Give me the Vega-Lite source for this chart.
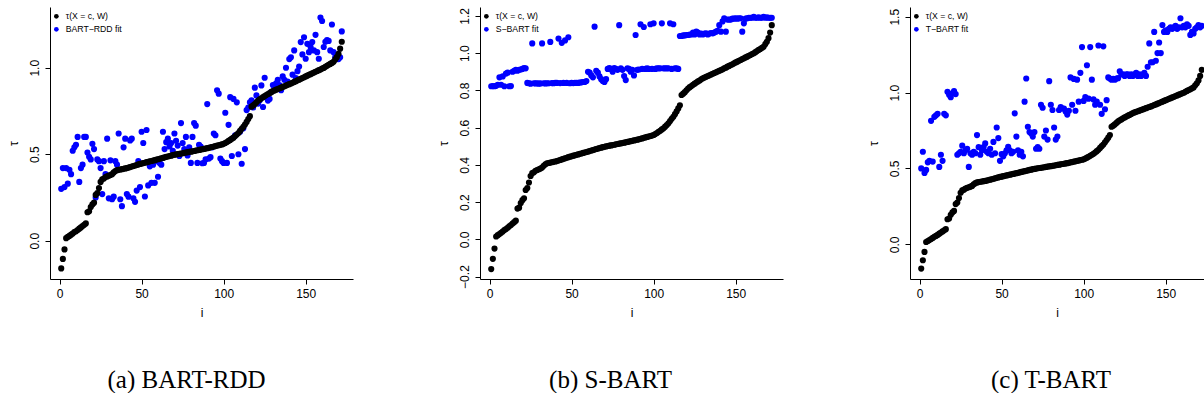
{
  "$schema": "https://vega.github.io/schema/vega-lite/v6.json",
  "padding": {"left": 7, "top": 7, "right": 0, "bottom": 0},
  "background": "white",
  "datasets": {
    "d": [
      {"i":1,"tau":-0.16,"a":0.30,"b":0.822,"c":0.50},
      {"i":2,"tau":-0.105,"a":0.42,"b":0.823,"c":0.61},
      {"i":3,"tau":-0.05,"a":0.31,"b":0.822,"c":0.47},
      {"i":4,"tau":0.015,"a":0.42,"b":0.824,"c":0.49},
      {"i":5,"tau":0.022,"a":0.33,"b":0.83,"c":0.54},
      {"i":6,"tau":0.028,"a":0.41,"b":0.87,"c":0.55},
      {"i":7,"tau":0.035,"a":0.385,"b":0.83,"c":0.814},
      {"i":8,"tau":0.042,"a":0.52,"b":0.875,"c":0.545},
      {"i":9,"tau":0.05,"a":0.54,"b":0.822,"c":0.84},
      {"i":10,"tau":0.055,"a":0.555,"b":0.89,"c":0.85},
      {"i":11,"tau":0.062,"a":0.60,"b":0.895,"c":0.86},
      {"i":12,"tau":0.07,"a":0.34,"b":0.822,"c":0.51},
      {"i":13,"tau":0.077,"a":0.42,"b":0.823,"c":0.59},
      {"i":14,"tau":0.085,"a":0.44,"b":0.90,"c":0.55},
      {"i":15,"tau":0.092,"a":0.60,"b":0.905,"c":0.86},
      {"i":16,"tau":0.10,"a":0.60,"b":0.91,"c":0.85},
      {"i":17,"tau":0.165,"a":0.51,"b":0.905,"c":1.005},
      {"i":18,"tau":0.17,"a":0.485,"b":0.91,"c":0.985},
      {"i":19,"tau":0.195,"a":0.47,"b":0.912,"c":0.97},
      {"i":20,"tau":0.21,"a":0.56,"b":0.915,"c":0.995},
      {"i":21,"tau":0.22,"a":0.53,"b":0.92,"c":1.01},
      {"i":22,"tau":0.265,"a":0.25,"b":0.918,"c":0.99},
      {"i":23,"tau":0.275,"a":0.47,"b":0.84,"c":0.59},
      {"i":24,"tau":0.305,"a":0.46,"b":0.838,"c":0.60},
      {"i":25,"tau":0.34,"a":0.42,"b":0.836,"c":0.61},
      {"i":26,"tau":0.355,"a":0.27,"b":1.052,"c":0.65},
      {"i":27,"tau":0.36,"a":0.46,"b":0.838,"c":0.60},
      {"i":28,"tau":0.368,"a":0.385,"b":0.837,"c":0.62},
      {"i":29,"tau":0.372,"a":0.59,"b":0.838,"c":0.63},
      {"i":30,"tau":0.376,"a":0.245,"b":0.836,"c":0.51},
      {"i":31,"tau":0.38,"a":0.465,"b":0.837,"c":0.60},
      {"i":32,"tau":0.385,"a":0.24,"b":1.052,"c":0.59},
      {"i":33,"tau":0.395,"a":0.255,"b":0.838,"c":0.61},
      {"i":34,"tau":0.403,"a":0.46,"b":0.837,"c":0.60},
      {"i":35,"tau":0.408,"a":0.44,"b":0.838,"c":0.72},
      {"i":36,"tau":0.41,"a":0.62,"b":0.838,"c":0.64},
      {"i":37,"tau":0.412,"a":0.24,"b":1.06,"c":0.59},
      {"i":38,"tau":0.414,"a":0.20,"b":0.839,"c":0.62},
      {"i":39,"tau":0.416,"a":0.54,"b":0.838,"c":0.64},
      {"i":40,"tau":0.418,"a":0.59,"b":0.84,"c":0.665},
      {"i":41,"tau":0.42,"a":0.27,"b":0.84,"c":0.61},
      {"i":42,"tau":0.423,"a":0.255,"b":1.078,"c":0.60},
      {"i":43,"tau":0.426,"a":0.58,"b":0.839,"c":0.63},
      {"i":44,"tau":0.429,"a":0.59,"b":1.055,"c":0.59},
      {"i":45,"tau":0.432,"a":0.245,"b":0.84,"c":0.675},
      {"i":46,"tau":0.435,"a":0.225,"b":1.068,"c":0.60},
      {"i":47,"tau":0.438,"a":0.29,"b":0.84,"c":0.77},
      {"i":48,"tau":0.441,"a":0.46,"b":1.085,"c":0.70},
      {"i":49,"tau":0.444,"a":0.31,"b":0.838,"c":0.55},
      {"i":50,"tau":0.446,"a":0.63,"b":0.84,"c":0.594},
      {"i":51,"tau":0.449,"a":0.565,"b":0.839,"c":0.58},
      {"i":52,"tau":0.451,"a":0.256,"b":0.84,"c":0.60},
      {"i":53,"tau":0.454,"a":0.64,"b":0.84,"c":0.62},
      {"i":54,"tau":0.456,"a":0.32,"b":0.84,"c":0.643},
      {"i":55,"tau":0.459,"a":0.43,"b":0.842,"c":0.62},
      {"i":56,"tau":0.461,"a":0.335,"b":0.843,"c":0.60},
      {"i":57,"tau":0.464,"a":0.44,"b":0.845,"c":0.61},
      {"i":58,"tau":0.466,"a":0.335,"b":0.845,"c":0.863},
      {"i":59,"tau":0.469,"a":0.46,"b":0.85,"c":0.71},
      {"i":60,"tau":0.471,"a":0.37,"b":0.90,"c":0.62},
      {"i":61,"tau":0.474,"a":0.45,"b":0.895,"c":0.59},
      {"i":62,"tau":0.477,"a":0.44,"b":0.88,"c":0.61},
      {"i":63,"tau":0.479,"a":0.63,"b":0.87,"c":0.58},
      {"i":64,"tau":0.482,"a":0.53,"b":1.142,"c":0.94},
      {"i":65,"tau":0.485,"a":0.57,"b":0.905,"c":1.093},
      {"i":66,"tau":0.487,"a":0.59,"b":0.895,"c":0.775},
      {"i":67,"tau":0.49,"a":0.545,"b":0.875,"c":0.74},
      {"i":68,"tau":0.492,"a":0.565,"b":0.86,"c":0.73},
      {"i":69,"tau":0.495,"a":0.52,"b":0.85,"c":0.71},
      {"i":70,"tau":0.497,"a":0.62,"b":0.845,"c":0.74},
      {"i":71,"tau":0.499,"a":0.578,"b":0.86,"c":0.63},
      {"i":72,"tau":0.501,"a":0.55,"b":0.915,"c":0.64},
      {"i":73,"tau":0.503,"a":0.49,"b":0.92,"c":0.63},
      {"i":74,"tau":0.504,"a":0.68,"b":0.915,"c":0.92},
      {"i":75,"tau":0.506,"a":0.565,"b":0.90,"c":0.90},
      {"i":76,"tau":0.508,"a":0.53,"b":0.92,"c":0.71},
      {"i":77,"tau":0.51,"a":0.60,"b":0.915,"c":0.75},
      {"i":78,"tau":0.512,"a":0.493,"b":0.91,"c":0.69},
      {"i":79,"tau":0.514,"a":0.54,"b":1.15,"c":1.075},
      {"i":80,"tau":0.515,"a":0.45,"b":0.918,"c":0.92},
      {"i":81,"tau":0.517,"a":0.60,"b":0.91,"c":0.885},
      {"i":82,"tau":0.519,"a":0.68,"b":0.877,"c":0.77},
      {"i":83,"tau":0.521,"a":0.665,"b":0.855,"c":0.69},
      {"i":84,"tau":0.523,"a":0.45,"b":0.918,"c":0.71},
      {"i":85,"tau":0.525,"a":0.555,"b":0.915,"c":0.885},
      {"i":86,"tau":0.527,"a":0.545,"b":0.90,"c":0.905},
      {"i":87,"tau":0.529,"a":0.448,"b":0.91,"c":0.895},
      {"i":88,"tau":0.531,"a":0.45,"b":0.88,"c":0.895},
      {"i":89,"tau":0.533,"a":0.47,"b":1.097,"c":0.875},
      {"i":90,"tau":0.535,"a":0.79,"b":0.91,"c":0.855},
      {"i":91,"tau":0.537,"a":0.475,"b":0.912,"c":0.88},
      {"i":92,"tau":0.54,"a":0.483,"b":1.155,"c":1.10},
      {"i":93,"tau":0.542,"a":0.54,"b":0.915,"c":0.92},
      {"i":94,"tau":0.545,"a":0.62,"b":1.14,"c":1.09},
      {"i":95,"tau":0.547,"a":0.61,"b":0.915,"c":0.88},
      {"i":96,"tau":0.55,"a":0.87,"b":0.918,"c":1.085},
      {"i":97,"tau":0.552,"a":0.85,"b":0.915,"c":0.94},
      {"i":98,"tau":0.555,"a":0.475,"b":1.155,"c":1.13},
      {"i":99,"tau":0.557,"a":0.46,"b":0.915,"c":1.30},
      {"i":100,"tau":0.56,"a":0.45,"b":1.16,"c":0.945},
      {"i":101,"tau":0.565,"a":0.74,"b":0.915,"c":0.97},
      {"i":102,"tau":0.571,"a":0.45,"b":0.918,"c":1.18},
      {"i":103,"tau":0.577,"a":0.67,"b":0.918,"c":0.96},
      {"i":104,"tau":0.583,"a":0.83,"b":0.918,"c":1.30},
      {"i":105,"tau":0.59,"a":0.49,"b":1.16,"c":1.085},
      {"i":106,"tau":0.596,"a":0.82,"b":0.918,"c":0.955},
      {"i":107,"tau":0.605,"a":0.61,"b":0.918,"c":0.92},
      {"i":108,"tau":0.614,"a":0.80,"b":0.918,"c":0.94},
      {"i":109,"tau":0.623,"a":0.50,"b":0.918,"c":1.31},
      {"i":110,"tau":0.635,"a":0.63,"b":1.16,"c":0.92},
      {"i":111,"tau":0.647,"a":0.445,"b":0.915,"c":0.86},
      {"i":112,"tau":0.658,"a":0.65,"b":1.155,"c":1.305},
      {"i":113,"tau":0.672,"a":0.53,"b":0.918,"c":0.89},
      {"i":114,"tau":0.687,"a":0.755,"b":0.918,"c":0.95},
      {"i":115,"tau":0.703,"a":0.77,"b":0.915,"c":1.10},
      {"i":116,"tau":0.72,"a":0.80,"b":1.092,"c":1.093},
      {"i":117,"tau":0.775,"a":0.812,"b":1.092,"c":1.085},
      {"i":118,"tau":0.782,"a":0.77,"b":1.095,"c":1.09},
      {"i":119,"tau":0.79,"a":0.885,"b":1.095,"c":1.085},
      {"i":120,"tau":0.80,"a":0.84,"b":1.097,"c":1.093},
      {"i":121,"tau":0.81,"a":0.793,"b":1.097,"c":1.095},
      {"i":122,"tau":0.817,"a":0.812,"b":1.10,"c":1.14},
      {"i":123,"tau":0.823,"a":0.898,"b":1.10,"c":1.12},
      {"i":124,"tau":0.83,"a":0.773,"b":1.11,"c":1.12},
      {"i":125,"tau":0.836,"a":0.942,"b":1.10,"c":1.11},
      {"i":126,"tau":0.842,"a":0.83,"b":1.115,"c":1.12},
      {"i":127,"tau":0.848,"a":0.81,"b":1.11,"c":1.12},
      {"i":128,"tau":0.853,"a":0.82,"b":1.10,"c":1.11},
      {"i":129,"tau":0.859,"a":0.86,"b":1.105,"c":1.12},
      {"i":130,"tau":0.865,"a":0.90,"b":1.10,"c":1.11},
      {"i":131,"tau":0.869,"a":0.88,"b":1.105,"c":1.12},
      {"i":132,"tau":0.873,"a":0.91,"b":1.106,"c":1.13},
      {"i":133,"tau":0.877,"a":0.93,"b":1.10,"c":1.11},
      {"i":134,"tau":0.881,"a":0.90,"b":1.105,"c":1.12},
      {"i":135,"tau":0.885,"a":0.87,"b":1.108,"c":1.11},
      {"i":136,"tau":0.889,"a":0.95,"b":1.106,"c":1.12},
      {"i":137,"tau":0.893,"a":0.93,"b":1.11,"c":1.13},
      {"i":138,"tau":0.897,"a":1.00,"b":1.115,"c":1.11},
      {"i":139,"tau":0.901,"a":0.92,"b":1.12,"c":1.17},
      {"i":140,"tau":0.905,"a":1.05,"b":1.15,"c":1.324},
      {"i":141,"tau":0.909,"a":1.06,"b":1.115,"c":1.20},
      {"i":142,"tau":0.913,"a":0.96,"b":1.17,"c":1.20},
      {"i":143,"tau":0.918,"a":1.10,"b":1.187,"c":1.40},
      {"i":144,"tau":0.922,"a":0.94,"b":1.115,"c":1.21},
      {"i":145,"tau":0.927,"a":0.98,"b":1.18,"c":1.26},
      {"i":146,"tau":0.931,"a":1.007,"b":1.18,"c":1.33},
      {"i":147,"tau":0.936,"a":1.148,"b":1.18,"c":1.26},
      {"i":148,"tau":0.94,"a":1.077,"b":1.185,"c":1.445},
      {"i":149,"tau":0.945,"a":1.176,"b":1.185,"c":1.40},
      {"i":150,"tau":0.95,"a":1.052,"b":1.187,"c":1.41},
      {"i":151,"tau":0.954,"a":1.138,"b":1.185,"c":1.40},
      {"i":152,"tau":0.959,"a":1.09,"b":1.187,"c":1.42},
      {"i":153,"tau":0.963,"a":1.12,"b":1.187,"c":1.43},
      {"i":154,"tau":0.968,"a":1.148,"b":1.115,"c":1.42},
      {"i":155,"tau":0.972,"a":1.10,"b":1.16,"c":1.43},
      {"i":156,"tau":0.977,"a":1.19,"b":1.185,"c":1.44},
      {"i":157,"tau":0.981,"a":1.09,"b":1.187,"c":1.42},
      {"i":158,"tau":0.986,"a":1.052,"b":1.19,"c":1.43},
      {"i":159,"tau":0.99,"a":1.29,"b":1.19,"c":1.49},
      {"i":160,"tau":0.995,"a":1.27,"b":1.19,"c":1.43},
      {"i":161,"tau":0.999,"a":1.12,"b":1.195,"c":1.44},
      {"i":162,"tau":1.005,"a":1.15,"b":1.19,"c":1.43},
      {"i":163,"tau":1.011,"a":1.16,"b":1.19,"c":1.45},
      {"i":164,"tau":1.017,"a":1.155,"b":1.192,"c":1.44},
      {"i":165,"tau":1.022,"a":1.10,"b":1.19,"c":1.38},
      {"i":166,"tau":1.028,"a":1.25,"b":1.19,"c":1.40},
      {"i":167,"tau":1.034,"a":1.09,"b":1.195,"c":1.39},
      {"i":168,"tau":1.048,"a":1.06,"b":1.19,"c":1.42},
      {"i":169,"tau":1.061,"a":1.05,"b":1.192,"c":1.43},
      {"i":170,"tau":1.08,"a":1.05,"b":1.19,"c":1.445},
      {"i":171,"tau":1.11,"a":1.06,"b":1.19,"c":1.43},
      {"i":172,"tau":1.15,"a":1.21,"b":1.19,"c":1.44}
    ]
  },
  "hconcat": [
    {
      "width": 303,
      "height": 272,
      "data": {"name": "d"},
      "transform": [{"fold": ["tau", "a"], "as": ["series", "value"]}],
      "mark": {"type": "point", "filled": true, "size": 38, "opacity": 1},
      "encoding": {
        "x": {"field": "i", "type": "quantitative", "scale": {"domain": [-5.84, 178.84], "nice": false, "zero": false}, "axis": {"values": [0, 50, 100, 150], "title": "i"}},
        "y": {"field": "value", "type": "quantitative", "scale": {"domain": [-0.221, 1.351], "nice": false, "zero": false}, "axis": {"values": [0, 0.5, 1], "format": ".1f", "title": "τ"}},
        "color": {"field": "series", "type": "nominal", "scale": {"domain": ["tau", "a"], "range": ["#000000", "#0000ff"]},
          "legend": {"title": null, "orient": "none", "legendX": 2, "legendY": 5, "labelExpr": "datum.label == 'tau' ? 'τ(X = c, W)' : 'BART−RDD fit'"}},
        "order": {"field": "series", "type": "nominal"}
      },
      "title": {"text": "(a) BART-RDD", "dx": -15}
    },
    {
      "width": 303,
      "height": 272,
      "data": {"name": "d"},
      "transform": [{"fold": ["tau", "b"], "as": ["series", "value"]}],
      "mark": {"type": "point", "filled": true, "size": 38, "opacity": 1},
      "encoding": {
        "x": {"field": "i", "type": "quantitative", "scale": {"domain": [-5.84, 178.84], "nice": false, "zero": false}, "axis": {"values": [0, 50, 100, 150], "title": "i"}},
        "y": {"field": "value", "type": "quantitative", "scale": {"domain": [-0.2132, 1.2476], "nice": false, "zero": false}, "axis": {"values": [-0.2, 0, 0.2, 0.4, 0.6, 0.8, 1, 1.2], "format": ".1f", "title": "τ"}},
        "color": {"field": "series", "type": "nominal", "scale": {"domain": ["tau", "b"], "range": ["#000000", "#0000ff"]},
          "legend": {"title": null, "orient": "none", "legendX": 2, "legendY": 5, "labelExpr": "datum.label == 'tau' ? 'τ(X = c, W)' : 'S−BART fit'"}},
        "order": {"field": "series", "type": "nominal"}
      },
      "title": {"text": "(b) S-BART", "dx": -21}
    },
    {
      "width": 294,
      "height": 272,
      "data": {"name": "d"},
      "transform": [{"fold": ["tau", "c"], "as": ["series", "value"]}],
      "mark": {"type": "point", "filled": true, "size": 38, "opacity": 1, "clip": true},
      "encoding": {
        "x": {"field": "i", "type": "quantitative", "scale": {"domain": [-5.84, 173.35], "nice": false, "zero": false}, "axis": {"values": [0, 50, 100, 150], "title": "i"}},
        "y": {"field": "value", "type": "quantitative", "scale": {"domain": [-0.2287, 1.564], "nice": false, "zero": false}, "axis": {"values": [0, 0.5, 1, 1.5], "format": ".1f", "title": "τ"}},
        "color": {"field": "series", "type": "nominal", "scale": {"domain": ["tau", "c"], "range": ["#000000", "#0000ff"]},
          "legend": {"title": null, "orient": "none", "legendX": 2, "legendY": 5, "labelExpr": "datum.label == 'tau' ? 'τ(X = c, W)' : 'T−BART fit'"}},
        "order": {"field": "series", "type": "nominal"}
      },
      "title": {"text": "(c) T-BART", "dx": -6}
    }
  ],
  "spacing": 127,
  "bounds": "flush",
  "resolve": {"scale": {"color": "independent", "x": "independent", "y": "independent"}, "legend": {"color": "independent"}},
  "config": {
    "view": {"stroke": null},
    "font": "Liberation Sans",
    "axis": {"grid": false, "domainColor": "#000000", "tickColor": "#000000", "labelColor": "#000000", "titleColor": "#000000", "labelFont": "Liberation Sans", "titleFont": "Liberation Sans", "labelFontSize": 12, "titleFontSize": 12, "titleFontWeight": "normal", "tickSize": 5, "labelPadding": 4, "domainWidth": 1, "tickWidth": 1, "labelOverlap": false, "labelFlush": false},
    "axisY": {"labelAngle": -90, "labelAlign": "center", "labelBaseline": "bottom", "titlePadding": 8},
    "axisX": {"titlePadding": 8},
    "legend": {"symbolType": "circle", "symbolSize": 22, "symbolStrokeWidth": 0, "labelFont": "Liberation Sans", "labelFontSize": 8.7, "labelColor": "#000000", "labelOffset": 5, "rowPadding": 3, "padding": 0},
    "title": {"font": "Liberation Serif", "fontSize": 25, "fontWeight": "normal", "orient": "bottom", "anchor": "middle", "color": "#000000", "offset": 50}
  }
}
